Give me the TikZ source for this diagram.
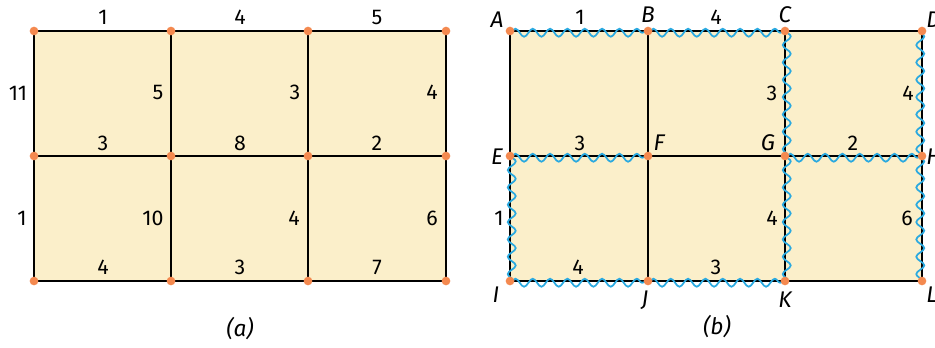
\documentclass[tikz,border=0pt]{standalone}
\usepackage{fontspec}
\setmainfont{Fira Sans}
\usetikzlibrary{decorations.pathmorphing}
\definecolor{cellCol}{HTML}{FBEFCA}
\definecolor{dotCol}{HTML}{F4894F}
\definecolor{waveCol}{HTML}{2AA9E0}

\begin{document}
\begin{tikzpicture}[
    x=0.75pt, y=-0.75pt,
    font=\fontsize{16}{18}\selectfont,
    gridline/.style={line width=1.5pt, black},
    thinline/.style={line width=1.1pt, black},
    wavy/.style={draw=waveCol, line width=1.3pt, decorate,
        decoration={snake, segment length=13pt, amplitude=3pt, raise=#1}},
    vtx/.style={circle, fill=dotCol, inner sep=0pt, minimum size=6.5pt},
    num/.style={inner sep=0pt},
    letter/.style={inner sep=0pt, font=\fontsize{17}{19}\selectfont\itshape}
]
\useasboundingbox (0,0) rectangle (935,347);

% --- (a) grid points ---
\foreach \x [count=\i] in {34,171,308,446}
    \foreach \y [count=\j] in {31,156,281}
        \coordinate (a\j\i) at (\x,\y);

% --- (b) grid points ---
\foreach \n/\x/\y in {A/510/31, B/648/31, C/785/31, D/922/31,
                      E/510/156, F/648/156, G/785/156, H/922/156,
                      I/510/281, J/648/281, K/785/281, L/922/281}
    \coordinate (\n) at (\x,\y);

\fill[cellCol] (a11) rectangle (a34);
\fill[cellCol] (A) rectangle (L);

% --- (a) edges ---
\foreach \j in {1,2,3}
    \draw[gridline] (a\j1) -- (a\j4);
\foreach \i in {1,...,4}
    \draw[gridline] (a1\i) -- (a3\i);

% --- (b) edges ---
\draw[gridline] (A) -- (D) -- (L) -- (I) -- cycle;
\draw[gridline] (E) -- (H);
\draw[gridline] (C) -- (K);
\draw[thinline] (B) -- (J);

% duplicated edges
\foreach \p/\q in {A/B, B/C, E/F, G/H, I/J, J/K}
    \draw[wavy=-1.3pt] (\p) -- (\q);
\foreach \p/\q in {C/G, G/K, E/I}
    \draw[wavy=1.3pt] (\p) -- (\q);
\foreach \p/\q in {D/H, H/L}
    \draw[wavy=-1.3pt] (\p) -- (\q);

% --- vertices ---
\foreach \j in {1,2,3}
    \foreach \i in {1,...,4}
        \node[vtx] (dota\j\i) at (a\j\i) {};
\foreach \n in {A,B,C,D,E,F,G,H,I,J,K,L}
    \node[vtx] (dot\n) at (\n) {};

% --- (a) weights ---
\node[num] (wa1) at (103,17) {1};
\node[num] (wa2) at (240,17) {4};
\node[num] (wa3) at (377,17) {5};
\node[num] (wa4) at (18,93) {11};
\node[num] (wa5) at (158,92) {5};
\node[num] (wa6) at (295,92) {3};
\node[num] (wa7) at (432,92) {4};
\node[num] (wa8) at (103,143) {3};
\node[num] (wa9) at (240,143) {8};
\node[num] (wa10) at (377,143) {2};
\node[num] (wa11) at (22,218) {1};
\node[num] (wa12) at (153,218) {10};
\node[num] (wa13) at (294,218) {4};
\node[num] (wa14) at (432,218) {6};
\node[num] (wa15) at (103,267) {4};
\node[num] (wa16) at (240,267) {3};
\node[num] (wa17) at (377,267) {7};
\node[letter] (capa) at (240,329) {(a)};

% --- (b) weights ---
\node[num] (wb1) at (580,17) {1};
\node[num] (wb2) at (716,17) {4};
\node[num] (wb3) at (772,93) {3};
\node[num] (wb4) at (908,93) {4};
\node[num] (wb5) at (580,143) {3};
\node[num] (wb6) at (853,143) {2};
\node[num] (wb7) at (499,218) {1};
\node[num] (wb8) at (772,218) {4};
\node[num] (wb9) at (907,218) {6};
\node[num] (wb10) at (578,267) {4};
\node[num] (wb11) at (716,267) {3};
\node[letter] (capb) at (717,327) {(b)};

% --- (b) vertex names ---
\node[letter] (lA) at (497,20) {A};
\node[letter] (lB) at (648,15) {B};
\node[letter] (lC) at (785,15) {C};
\node[letter, anchor=west] (lD) at (926,20) {D};
\node[letter] (lE) at (497,157) {E};
\node[letter] (lF) at (659,143) {F};
\node[letter] (lG) at (768,143) {G};
\node[letter, anchor=west] (lH) at (926,157) {H};
\node[letter] (lI) at (496,295) {I};
\node[letter] (lJ) at (645,300) {J};
\node[letter] (lK) at (785,300) {K};
\node[letter, anchor=west] (lL) at (926,295) {L};

\end{tikzpicture}
\end{document}
